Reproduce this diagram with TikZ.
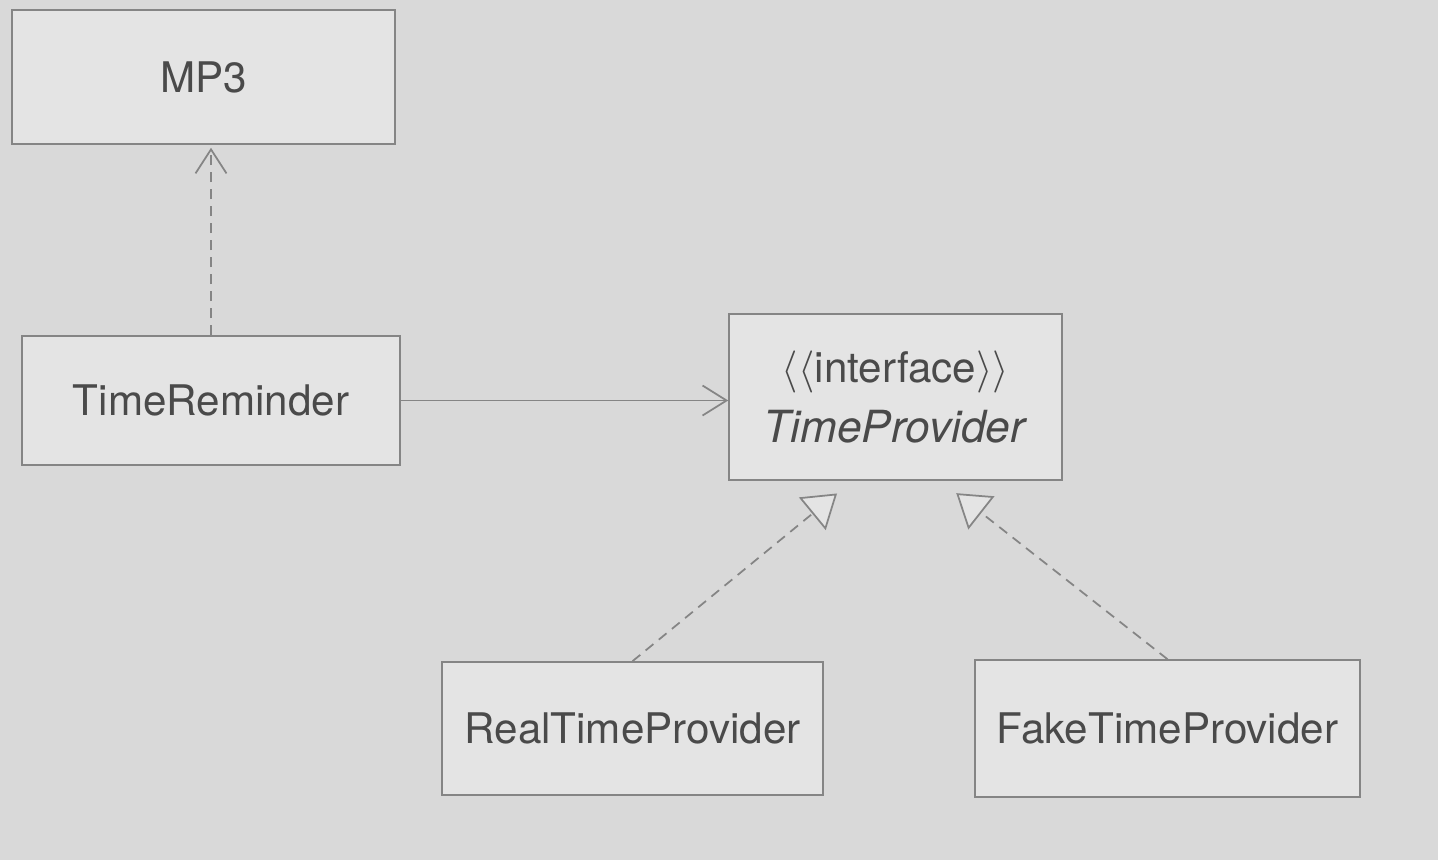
\documentclass[tikz,border=0pt]{standalone}
\usepackage{fontspec}
\setmainfont{TeX Gyre Heros}
\usetikzlibrary{arrows.meta}
\definecolor{pagegray}{HTML}{D9D9D9}
\definecolor{boxgray}{HTML}{E4E4E4}
\definecolor{linegray}{HTML}{858585}
\definecolor{textgray}{HTML}{4A4A4A}
\newcommand{\stereo}[1]{$\langle\langle$#1$\rangle\rangle$}
\begin{document}
\begin{tikzpicture}[auto,
    classbox/.style ={rectangle, draw=linegray, fill=boxgray, line width=0.45pt, inner sep=0pt,
      text=textgray, font=\fontsize{12}{14.5}\selectfont, align=center},
    depends/.style ={draw=linegray, line width=0.5pt, dash pattern=on 1mm off 0.7mm,
      -{Straight Barb[length=2.4mm,width=3.1mm]}},
    uses/.style ={draw=linegray, line width=0.5pt, -{Straight Barb[length=2.4mm,width=3mm]}},
    realizes/.style ={draw=linegray, line width=0.5pt, dash pattern=on 1mm off 0.7mm,
      -{Triangle[open,length=3.2mm,width=4.2mm,fill=boxgray]}}]
   \fill[pagegray] (0,0) rectangle (14.38,-8.6);
   \useasboundingbox (0,0) rectangle (14.38,-8.6);
   \node[classbox, minimum width=3.83cm, minimum height=1.34cm] (MP3) at (2.035,-0.77) {MP3};
   \node[classbox, minimum width=3.78cm, minimum height=1.29cm] (TR) at (2.11,-4.005) {TimeReminder};
   \node[classbox, minimum width=3.33cm, minimum height=1.66cm] (TP) at (8.955,-3.97)
     {\stereo{interface}\\[0.9mm] {\fontsize{12.6}{15}\selectfont\textit{TimeProvider}}};
   \node[classbox, minimum width=3.81cm, minimum height=1.33cm] (RTP) at (6.325,-7.285) {RealTimeProvider};
   \node[classbox, minimum width=3.85cm, minimum height=1.37cm] (FTP) at (11.675,-7.285) {FakeTimeProvider};
   \coordinate (tpL) at ([xshift=-4.3mm]TP.south);
   \coordinate (tpR) at ([xshift=4.5mm]TP.south);
   \draw[depends, shorten >=0.3mm] (TR.north) to (TR.north |- MP3.south);
   \draw[uses] (TR.east) to (TR.east -| TP.west);
   \draw[realizes, shorten >=2mm] (RTP.north) to (tpL);
   \draw[realizes, shorten >=2mm] (FTP.north) to (tpR);
 \end{tikzpicture}
\end{document}
